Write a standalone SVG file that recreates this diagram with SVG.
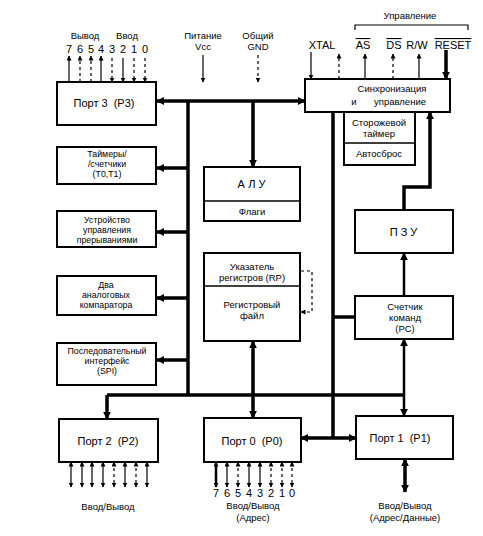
<svg xmlns="http://www.w3.org/2000/svg" width="483" height="536" viewBox="0 0 483 536">
<defs>
<marker id="ah" viewBox="0 0 10 10" refX="9" refY="5" markerWidth="8" markerHeight="8" markerUnits="userSpaceOnUse" orient="auto-start-reverse"><path d="M0,0 L10,5 L0,10 z" fill="#000"/></marker>
<marker id="as" viewBox="0 0 10 10" refX="9" refY="5" markerWidth="5" markerHeight="5" markerUnits="userSpaceOnUse" orient="auto-start-reverse"><path d="M0,0 L10,5 L0,10 z" fill="#000"/></marker>
<style>
text{font-family:"Liberation Sans",Arial,sans-serif;fill:#000;text-anchor:middle}
.t{font-size:9.5px}
.s{font-size:8.8px}
.p{font-size:11px}
.box{fill:#fff;stroke:#000;stroke-width:2}
.div{stroke:#000;stroke-width:1.5;fill:none}
.bus{stroke:#000;stroke-width:3.5;fill:none}
.mid{stroke:#000;stroke-width:2.5;fill:none}
.thin{stroke:#000;stroke-width:1.2;fill:none}
.dash{stroke:#000;stroke-width:1.2;fill:none;stroke-dasharray:3,3}
.ov{text-decoration:overline}
</style>
</defs>
<rect width="483" height="536" fill="#fff"/>

<g id="connectors">
<path class="bus" d="M188,101 H305" marker-end="url(#ah)"/>
<path class="bus" d="M188,101 H157" marker-end="url(#ah)"/>
<path class="bus" d="M188,101 V395"/>
<path class="bus" d="M253,101 V167" marker-end="url(#ah)"/>
<path class="bus" d="M333,112 V438"/>
<path class="bus" d="M107,395 H404"/>
<path class="bus" d="M107,395 V419" marker-end="url(#ah)"/>
<path class="bus" d="M253,341 V418" marker-start="url(#ah)" marker-end="url(#ah)"/>
<path class="bus" d="M301,438 H356" marker-start="url(#ah)" marker-end="url(#ah)"/>
<path class="bus" d="M188,168 H157" marker-end="url(#ah)"/>
<path class="bus" d="M188,232 H157" marker-end="url(#ah)"/>
<path class="bus" d="M188,298 H157" marker-end="url(#ah)"/>
<path class="bus" d="M188,360 H157" marker-end="url(#ah)"/>
<path class="bus" d="M333,317 H355"/>
<path class="bus" d="M404,210 V187 H430 V112" marker-end="url(#ah)"/>
<path class="mid" d="M404,296 V253" marker-end="url(#ah)"/>
<path class="mid" d="M404,339 V416" marker-start="url(#ah)" marker-end="url(#ah)"/>
<path class="bus" d="M405,459 V492" marker-start="url(#ah)" marker-end="url(#ah)"/>
<path class="bus" d="M446,50 V79" marker-end="url(#ah)"/>
<path class="dash" d="M301,271 H312 V312 H301" marker-end="url(#as)"/>
<path class="thin" d="M69,82 V56" marker-end="url(#as)"/>
<path class="dash" d="M80,82 V56" marker-end="url(#as)"/>
<path class="dash" d="M91,82 V56" marker-end="url(#as)"/>
<path class="thin" d="M101,82 V56" marker-end="url(#as)"/>
<path class="dash" d="M112,58 V82" marker-end="url(#as)"/>
<path class="thin" d="M123,58 V82" marker-end="url(#as)"/>
<path class="dash" d="M134,58 V82" marker-end="url(#as)"/>
<path class="dash" d="M145,58 V82" marker-end="url(#as)"/>
<path class="thin" d="M203,55 V82" marker-end="url(#as)"/>
<path class="dash" d="M258,55 V82" marker-end="url(#as)"/>
<path class="thin" d="M311,52 V79" marker-end="url(#as)"/>
<path class="dash" d="M339,79 V54" marker-end="url(#as)"/>
<path class="thin" d="M365,79 V54" marker-end="url(#as)"/>
<path class="dash" d="M393,79 V54" marker-end="url(#as)"/>
<path class="thin" d="M419,79 V54" marker-end="url(#as)"/>
<path class="thin" d="M355,30 V25 H468 V30"/>
<path class="thin" d="M71,462 V487" marker-start="url(#as)" marker-end="url(#as)"/>
<path class="thin" d="M82,462 V487" marker-start="url(#as)" marker-end="url(#as)"/>
<path class="thin" d="M92,462 V487" marker-start="url(#as)" marker-end="url(#as)"/>
<path class="thin" d="M103,462 V487" marker-start="url(#as)" marker-end="url(#as)"/>
<path class="dash" d="M114,462 V487" marker-start="url(#as)" marker-end="url(#as)"/>
<path class="thin" d="M125,462 V487" marker-start="url(#as)" marker-end="url(#as)"/>
<path class="dash" d="M136,462 V487" marker-start="url(#as)" marker-end="url(#as)"/>
<path class="thin" d="M147,462 V487" marker-start="url(#as)" marker-end="url(#as)"/>
<path class="mid" d="M216,462 V487" marker-start="url(#as)" marker-end="url(#as)"/>
<path class="thin" d="M227,462 V487" marker-start="url(#as)" marker-end="url(#as)"/>
<path class="dash" d="M238,462 V487" marker-start="url(#as)" marker-end="url(#as)"/>
<path class="thin" d="M249,462 V487" marker-start="url(#as)" marker-end="url(#as)"/>
<path class="thin" d="M260,462 V487" marker-start="url(#as)" marker-end="url(#as)"/>
<path class="dash" d="M271,462 V487" marker-start="url(#as)" marker-end="url(#as)"/>
<path class="dash" d="M282,462 V487" marker-start="url(#as)" marker-end="url(#as)"/>
<path class="dash" d="M292,462 V487" marker-start="url(#as)" marker-end="url(#as)"/>
</g>

<g id="labels">
<text class="t" x="85" y="39">Вывод</text>
<text class="t" x="127" y="39">Ввод</text>
<text class="p" x="69" y="53">7</text><text class="p" x="80" y="53">6</text><text class="p" x="91" y="53">5</text><text class="p" x="101" y="53">4</text>
<text class="p" x="112" y="53">3</text><text class="p" x="123" y="53">2</text><text class="p" x="134" y="53">1</text><text class="p" x="145" y="53">0</text>
<text class="t" x="203" y="39">Питание</text>
<text class="t" x="203" y="50">Vcc</text>
<text class="t" x="258" y="39">Общий</text>
<text class="t" x="258" y="50">GND</text>
<text class="t" x="410" y="19">Управление</text>
<text class="p" x="322" y="49">XTAL</text>
<text class="p ov" x="363" y="49">AS</text>
<text class="p ov" x="394" y="49">DS</text>
<text class="p" x="417" y="49">R/W</text>
<text class="p ov" x="453" y="49">RESET</text>
<text class="t" x="108" y="510">Ввод/Вывод</text>
<text class="p" x="216" y="497">7</text><text class="p" x="227" y="497">6</text><text class="p" x="238" y="497">5</text><text class="p" x="249" y="497">4</text>
<text class="p" x="260" y="497">3</text><text class="p" x="271" y="497">2</text><text class="p" x="282" y="497">1</text><text class="p" x="292" y="497">0</text>
<text class="t" x="253" y="509">Ввод/Вывод</text>
<text class="t" x="253" y="521">(Адрес)</text>
<text class="t" x="405" y="509">Ввод/Вывод</text>
<text class="t" x="405" y="521">(Адрес/Данные)</text>
</g>

<g id="port3"><rect class="box" x="57" y="82" width="99" height="43"/><text class="p" x="104" y="107" xml:space="preserve">Порт 3  (Р3)</text></g>
<g id="timers"><rect class="box" x="57" y="147" width="99" height="37"/><text class="s" x="107" y="157">Таймеры/</text><text class="s" x="107" y="167">/счетчики</text><text class="s" x="107" y="177">(Т0,Т1)</text></g>
<g id="interrupts"><rect class="box" x="57" y="211" width="99" height="36"/><text class="s" x="107" y="222.5">Устройство</text><text class="s" x="107" y="232.5">управления</text><text class="s" x="107" y="242.5">прерываниями</text></g>
<g id="comparators"><rect class="box" x="57" y="276" width="99" height="39"/><text class="s" x="106" y="288">Два</text><text class="s" x="106" y="298">аналоговых</text><text class="s" x="106" y="308">компаратора</text></g>
<g id="spi"><rect class="box" x="57" y="343" width="99" height="42"/><text class="s" x="107" y="354">Последовательный</text><text class="s" x="107" y="364">интерфейс</text><text class="s" x="107" y="374">(SPI)</text></g>
<g id="alu"><rect class="box" x="204" y="167" width="96" height="54"/><line class="div" x1="204" y1="201" x2="300" y2="201"/><text class="p" x="253" y="188" letter-spacing="3">АЛУ</text><text class="t" x="252" y="215">Флаги</text></g>
<g id="registers"><rect class="box" x="204" y="253" width="96" height="88"/><line class="div" x1="204" y1="286" x2="300" y2="286"/><text class="t" x="252" y="270">Указатель</text><text class="t" x="252" y="281">регистров (RP)</text><text class="t" x="252" y="308">Регистровый</text><text class="t" x="252" y="319">файл</text></g>
<g id="sync"><rect class="box" x="305" y="79" width="145" height="33"/><text class="t" x="392" y="92">Синхронизация</text><text class="t" x="354" y="105">и</text><text class="t" x="400" y="105">управление</text></g>
<g id="watchdog"><rect class="box" x="344" y="112" width="71" height="53"/><line class="div" x1="344" y1="143" x2="415" y2="143"/><text class="t" x="379" y="126">Сторожевой</text><text class="t" x="379" y="137">таймер</text><text class="t" x="379" y="157">Автосброс</text></g>
<g id="rom"><rect class="box" x="355" y="210" width="98" height="43"/><text class="p" x="405" y="236" letter-spacing="3">ПЗУ</text></g>
<g id="pc"><rect class="box" x="355" y="296" width="98" height="43"/><text class="t" x="405" y="310">Счетчик</text><text class="t" x="405" y="321">команд</text><text class="t" x="405" y="332">(PC)</text></g>
<g id="port2"><rect class="box" x="59" y="419" width="99" height="43"/><text class="p" x="108" y="445" xml:space="preserve">Порт 2  (Р2)</text></g>
<g id="port0"><rect class="box" x="204" y="418" width="97" height="44"/><text class="p" x="252" y="445" xml:space="preserve">Порт 0  (Р0)</text></g>
<g id="port1"><rect class="box" x="356" y="416" width="97" height="43"/><text class="p" x="400" y="442" xml:space="preserve">Порт 1  (Р1)</text></g>
</svg>
